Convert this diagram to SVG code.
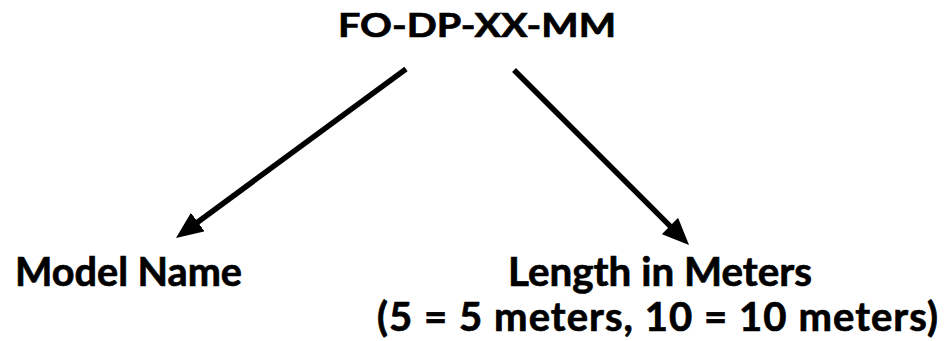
<svg xmlns="http://www.w3.org/2000/svg" width="947" height="341" viewBox="0 0 947 341">
<style>
.t{font-family:Lato,"Open Sans","Liberation Sans",sans-serif;font-weight:bold;fill:#000;stroke:#000;stroke-width:0.7}
.h{font-size:32px}
.b{font-size:40px}
.c{stroke:#000;stroke-width:5.5;fill:none}
</style>
<defs>
<marker id="ah" viewBox="0 0 27 23" refX="7" refY="11.5" markerWidth="27" markerHeight="23" markerUnits="userSpaceOnUse" orient="auto">
<path d="M0,0 L27,11.5 L0,23 z" fill="#000"/>
</marker>
</defs>
<rect width="947" height="341" fill="#fff"/>
<g id="code"><text class="t h" x="338" y="37" textLength="278" lengthAdjust="spacingAndGlyphs">FO-DP-XX-MM</text></g>
<g id="model"><text class="t b" x="15" y="286" textLength="227" lengthAdjust="spacingAndGlyphs">Model Name</text></g>
<g id="length"><text class="t b" x="508" y="286" textLength="304" lengthAdjust="spacingAndGlyphs">Length in Meters</text><text class="t b" x="377" y="331" textLength="561">(5 = 5 meters, 10 = 10 meters)</text></g>
<g id="connectors">
<line class="c" x1="406" y1="69" x2="192.1" y2="226.2" marker-end="url(#ah)"/>
<line class="c" x1="514" y1="70" x2="674.9" y2="230.9" marker-end="url(#ah)"/>
</g>
</svg>
